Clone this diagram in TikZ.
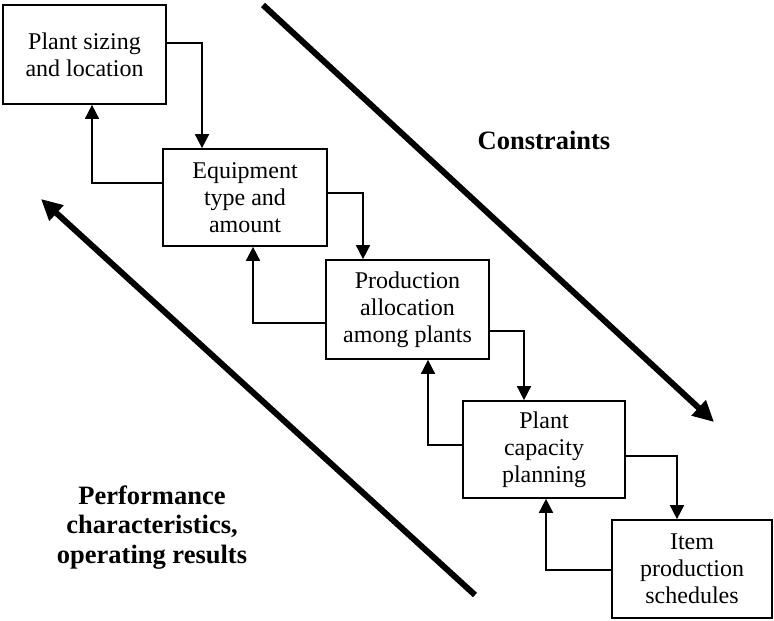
\documentclass[tikz,border=0pt]{standalone}
\usepackage{fontspec}
\setmainfont{Liberation Serif}
\usetikzlibrary{arrows.meta}
\begin{document}
\begin{tikzpicture}[x=1pt,y=-1pt,
  box/.style={draw,line width=1.7pt,rectangle,align=center,inner sep=0pt,
    font=\fontsize{24}{27}\selectfont},
  flow/.style={line width=1.7pt,-{Triangle[length=14pt,width=14pt]}},
  big/.style={line width=6pt,-{Triangle[length=21pt,width=20pt]}},
  lbl/.style={font=\fontsize{26.5}{29.5}\selectfont\bfseries,align=center,inner sep=0pt}]
\useasboundingbox (0,0) rectangle (774,621);
\node[box,minimum width=163pt,minimum height=99pt] (b1) at (84.5,54.5) {Plant sizing\\and location};
\node[box,minimum width=164pt,minimum height=97pt] (b2) at (245,197.5) {Equipment\\type and\\amount};
\node[box,minimum width=163pt,minimum height=99pt] (b3) at (407.5,309.5) {Production\\allocation\\among plants};
\node[box,minimum width=162pt,minimum height=97pt] (b4) at (544,449.5) {Plant\\capacity\\planning};
\node[box,minimum width=160pt,minimum height=98pt] (b5) at (692,569) {Item\\production\\schedules};
% downward flow
\draw[flow] ([yshift=11.5pt]b1.east) -| ([xshift=-43pt]b2.north);
\draw[flow] ([yshift=4.5pt]b2.east) -| ([xshift=-44.5pt]b3.north);
\draw[flow] ([yshift=-21.5pt]b3.east) -| ([xshift=-20pt]b4.north);
\draw[flow] ([yshift=-6.5pt]b4.east) -| ([xshift=-15pt]b5.north);
% feedback
\draw[flow] ([yshift=14.5pt]b2.west) -| ([xshift=7.5pt]b1.south);
\draw[flow] ([yshift=-13.5pt]b3.west) -| ([xshift=8pt]b2.south);
\draw[flow] ([yshift=4.5pt]b4.west) -| ([xshift=20.5pt]b3.south);
\draw[flow] ([yshift=-1pt]b5.west) -| ([xshift=2pt]b4.south);
% big arrows
\coordinate (cs) at (263,5);
\coordinate (ce) at (714,422);
\coordinate (ps) at (475,595);
\coordinate (pe) at (41,199);
\draw[big] (cs) -- (ce);
\draw[big] (ps) -- (pe);
\node[lbl,anchor=base] (con) at (544,149) {Constraints};
\node[lbl] (perf) at (152,527.5) {Performance\\characteristics,\\operating results};
\end{tikzpicture}
\end{document}
